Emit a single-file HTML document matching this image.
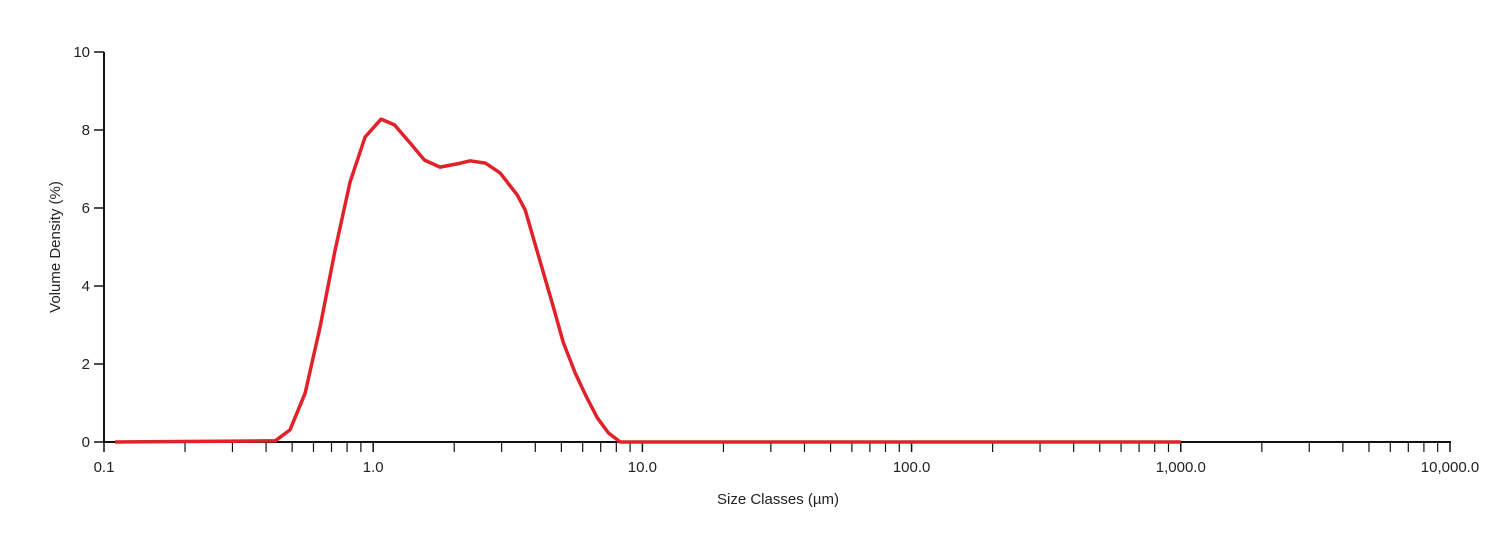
<!DOCTYPE html>
<html><head><meta charset="utf-8"><style>
body{margin:0;background:#fff;}
svg text{font-family:"Liberation Sans","DejaVu Sans",sans-serif;fill:#222;}
</style></head><body>
<svg width="1510" height="553">
<g id="axes"></g>
<path id="curve" fill="none" stroke="#e0222a" stroke-width="3.5" stroke-linejoin="round"/>
<text x="778" y="504" text-anchor="middle" font-size="15">Size Classes (µm)</text>
<text transform="translate(60,247) rotate(-90)" text-anchor="middle" font-size="15">Volume Density (%)</text>
</svg>
<script>
const sizes=[0.11,0.433,0.491,0.559,0.635,0.722,0.821,0.933,1.07,1.20,1.37,1.55,1.77,2.05,2.29,2.61,2.96,3.43,3.67,4.29,4.67,5.08,5.63,6.14,6.80,7.48,8.28,1000];
const density=[0,0.03,0.31,1.26,2.95,4.92,6.67,7.82,8.28,8.13,7.67,7.23,7.05,7.13,7.21,7.15,6.90,6.33,5.95,4.33,3.46,2.56,1.77,1.21,0.62,0.23,0,0];
const xMajor=[0.1,1,10,100,1000,10000];
const xLabels=["0.1","1.0","10.0","100.0","1,000.0","10,000.0"];
const yTicks=[0,2,4,6,8,10];
const X0=104,X1=1450,Y0=442,Y1=52;
const xs=v=>X0+(Math.log10(v)+1)/5*(X1-X0);
const ys=v=>Y0-v/10*(Y0-Y1);
const NS="http://www.w3.org/2000/svg";
const g=document.getElementById('axes');
function el(t,a){const e=document.createElementNS(NS,t);for(const k in a)e.setAttribute(k,a[k]);g.appendChild(e);return e;}
let ax=el('line',{x1:X0,y1:Y1,x2:X0,y2:Y0,stroke:'#111','stroke-width':2});

let bx=el('line',{x1:X0-1,y1:Y0,x2:X1+1,y2:Y0,stroke:'#111','stroke-width':2});

yTicks.forEach(v=>{el('line',{x1:X0-10,x2:X0,y1:ys(v),y2:ys(v),stroke:'#111','stroke-width':1.5});
 const t=el('text',{x:X0-14,y:ys(v)+5,'text-anchor':'end','font-size':15});t.textContent=v;
 });
xMajor.forEach((v,i)=>{el('line',{x1:xs(v),x2:xs(v),y1:Y0,y2:Y0+10,stroke:'#111','stroke-width':1.5});
 const t=el('text',{x:xs(v),y:Y0+30,'text-anchor':'middle','font-size':15});t.textContent=xLabels[i];
 
 if(i<xMajor.length-1)for(let m=2;m<10;m++){const p=xs(v*m);el('line',{x1:p,x2:p,y1:Y0,y2:Y0+10,stroke:'#111','stroke-width':1.2});}});
document.getElementById('curve').setAttribute('d',sizes.map((s,i)=>(i?'L':'M')+xs(s).toFixed(1)+','+ys(density[i]).toFixed(1)).join(''));
</script>
</body></html>
